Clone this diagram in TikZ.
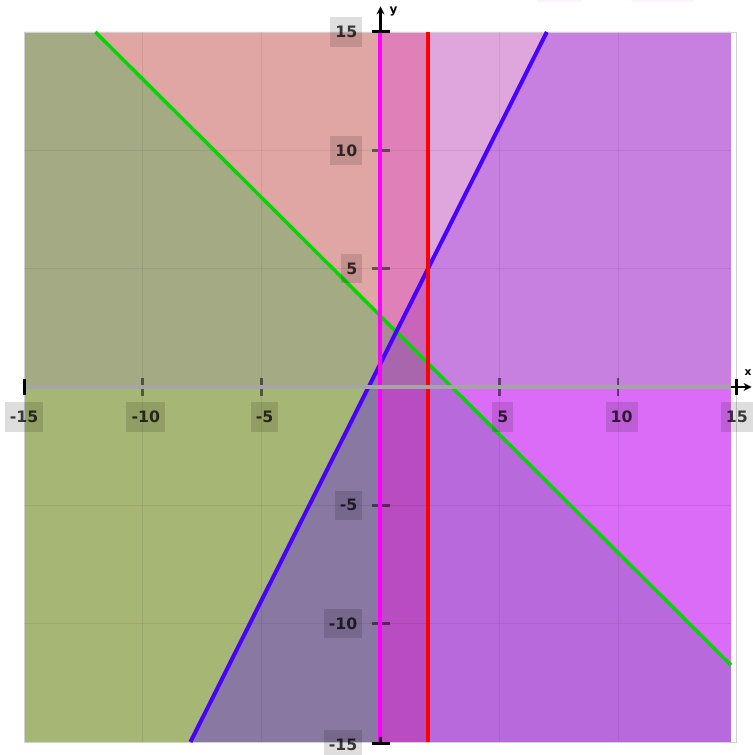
\documentclass[tikz,border=0pt]{standalone}
\usepackage{fontspec}
\setmainfont{DejaVu Sans}
\usetikzlibrary{arrows.meta}
\definecolor{cOG}{RGB}{163,170,132}
\definecolor{cPK}{RGB}{223,166,164}
\definecolor{cST}{RGB}{223,128,184}
\definecolor{cLV}{RGB}{223,166,222}
\definecolor{cPU}{RGB}{200,128,224}
\definecolor{cBM}{RGB}{218,108,248}
\definecolor{cOL}{RGB}{166,182,116}
\definecolor{cGP}{RGB}{136,120,162}
\definecolor{cSB}{RGB}{184,76,192}
\definecolor{cBR}{RGB}{184,106,220}
\definecolor{sA}{RGB}{140,122,165}
\definecolor{sB}{RGB}{200,100,188}
\definecolor{sC}{RGB}{172,136,152}
\definecolor{sD}{RGB}{170,102,172}
\definecolor{sE}{RGB}{174,116,206}
\definecolor{lnMag}{RGB}{255,0,255}
\definecolor{lnRed}{RGB}{255,0,0}
\definecolor{lnBlue}{RGB}{72,0,255}
\definecolor{lnGreen}{RGB}{0,214,0}
\definecolor{axGray}{RGB}{165,165,165}
\definecolor{smudge}{RGB}{250,245,250}
\begin{document}
\begin{tikzpicture}[x=17.82pt,y=17.7525pt,
  lbl/.style={fill=black, fill opacity=0.13, text=black, text opacity=0.75,
    font=\fontsize{11.8}{13}\selectfont\bfseries, inner xsep=3.8pt, inner ysep=0pt,
    minimum height=22pt},
  gridline/.style={black, opacity=0.07, line width=0.8pt},
  tickmark/.style={black, opacity=0.5, line width=2.1pt},
  axisbar/.style={black, line width=2.2pt},
  graphline/.style={line width=3pt}]
\useasboundingbox (-16.014,-15.547) rectangle (15.64,16.35);
% faint cut-off marks at top edge
\fill[smudge] (6.6,16.25) rectangle (8.5,16.6);
\fill[smudge] (10.6,16.25) rectangle (13.2,16.6);
% region fills
\fill[cPK] (-12,15) -- (0,15) -- (0,3) -- cycle;
\fill[cOG] (-15,15) -- (-12,15) -- (0,3) -- (0,1) -- (-0.5,0) -- (-15,0) -- cycle;
\fill[sA] (-0.5,0) -- (0,1) -- (0,0) -- cycle;
\fill[cOL] (-15,0) -- (-0.5,0) -- (-8,-15) -- (-15,-15) -- cycle;
\fill[cGP] (-0.5,0) -- (0,0) -- (0,-15) -- (-8,-15) -- cycle;
\fill[cST] (0,15) -- (2,15) -- (2,5) -- (0.6667,2.3333) -- (0,3) -- cycle;
\fill[sB] (0.6667,2.3333) -- (2,5) -- (2,1) -- cycle;
\fill[sC] (0,3) -- (0.6667,2.3333) -- (0,1) -- cycle;
\fill[sD] (0,1) -- (0.6667,2.3333) -- (2,1) -- (2,0) -- (0,0) -- cycle;
\fill[cSB] (0,0) -- (2,0) -- (2,-15) -- (0,-15) -- cycle;
\fill[cLV] (2,15) -- (7,15) -- (2,5) -- cycle;
\fill[cPU] (7,15) -- (14.75,15) -- (14.75,0) -- (3,0) -- (2,1) -- (2,5) -- cycle;
\fill[sE] (2,1) -- (3,0) -- (2,0) -- cycle;
\fill[cBM] (3,0) -- (14.75,0) -- (14.75,-11.75) -- cycle;
\fill[cBR] (2,0) -- (3,0) -- (14.75,-11.75) -- (14.75,-15) -- (2,-15) -- cycle;
% border
\draw[black!18, line width=0.6pt] (-15,-15) rectangle (15,15);
% grid
\foreach \v in {-10,-5,5,10} {
  \draw[gridline] (\v,-15) -- (\v,15);
  \draw[gridline] (-15,\v) -- (14.75,\v);
}
% ticks
\foreach \v in {-10,-5,5,10} {
  \draw[tickmark] (-0.36,\v) -- (0.38,\v);
  \draw[tickmark] (\v,-0.4) -- (\v,0.38);
}
% graph lines
\coordinate (gTop) at (-12,15);
\coordinate (gRight) at (14.75,-11.75);
\coordinate (bBot) at (-8,-15);
\coordinate (bTop) at (7,15);
\coordinate (mBot) at (0,-15);
\coordinate (mTop) at (0,15);
\coordinate (rBot) at (2,-15);
\coordinate (rTop) at (2,15);
\coordinate (xL) at (-15,0);
\coordinate (xR) at (14.75,0);
\draw[graphline, lnGreen, line width=2.6pt] (gTop) -- (gRight);
\draw[graphline, lnBlue] (bBot) -- (bTop);
\draw[graphline, lnRed] (rBot) -- (rTop);
\draw[graphline, lnMag] (mBot) -- (mTop);
\draw[axGray, line width=3.2pt] (xL) -- (xR);
% axis ends
\coordinate (yTopTip) at (0,16.08);
\coordinate (xRightTip) at (15.62,0);
\draw[axisbar] (-0.37,15) -- (0.4,15);
\draw[axisbar, -{Stealth[length=6pt,width=6pt]}] (mTop) -- (yTopTip);
\draw[axisbar] (-0.37,-15.05) -- (0.4,-15.05);
\draw[axisbar] (0,-15.05) -- (0,-14.8);
\draw[axisbar] (-15,-0.35) -- (-15,0.35);
\draw[axisbar] (15,-0.35) -- (15,0.35);
\draw[axisbar, -{Stealth[length=6pt,width=6pt]}] (xR) -- (xRightTip);
\node[font=\fontsize{9}{10}\selectfont\bfseries, inner sep=0pt] (ylab) at (0.55,15.85) {y};
\node[font=\fontsize{8}{9}\selectfont\bfseries, inner sep=0pt, anchor=east] (xlab) at (15.63,0.6) {x};
% y labels
\node[lbl, anchor=east] (ly15) at (-0.75,15) {15};
\node[lbl, anchor=east] (ly10) at (-0.75,10) {10};
\node[lbl, anchor=east] (ly5) at (-0.75,5) {5};
\node[lbl, anchor=east] (lym5) at (-0.75,-5) {-5};
\node[lbl, anchor=east] (lym10) at (-0.75,-10) {-10};
\node[lbl, anchor=east] (lym15) at (-0.75,-15.1) {-15};
% x labels
\node[lbl] (lxm15) at (-15,-1.27) {-15};
\node[lbl] (lxm10) at (-9.88,-1.27) {-10};
\node[lbl] (lxm5) at (-4.88,-1.27) {-5};
\node[lbl] (lx5) at (5.15,-1.27) {5};
\node[lbl] (lx10) at (10.15,-1.27) {10};
\node[lbl] (lx15) at (15,-1.27) {15};
\end{tikzpicture}
\end{document}
